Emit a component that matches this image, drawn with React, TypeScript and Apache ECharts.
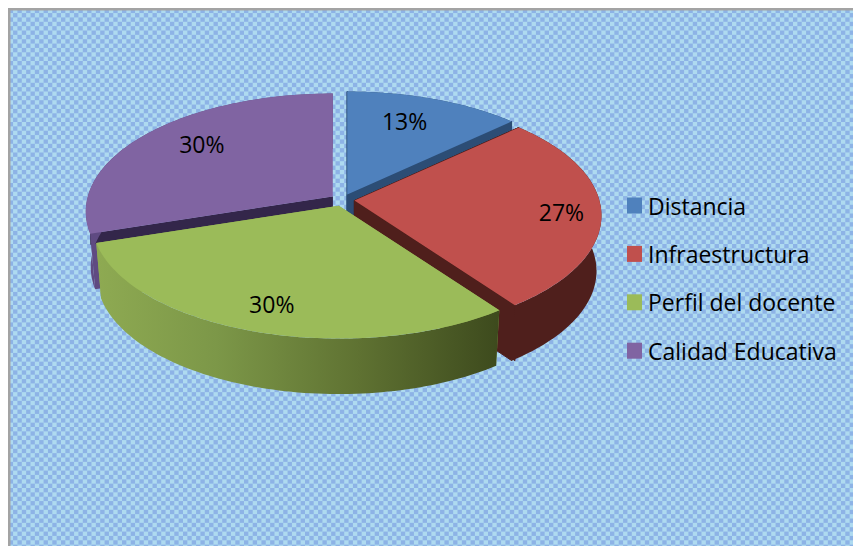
import React, { useEffect, useRef } from "react";
import * as echarts from "echarts";

const categories = ["Distancia", "Infraestructura", "Perfil del docente", "Calidad Educativa"];
const values = [13, 27, 30, 30];
const labels = ["13%", "27%", "30%", "30%"];
const colors = ["#4f81bd", "#c0504d", "#9bbb59", "#8064a2"];
const cutColors = ["#2c4d75", "#4f1f1c", "#5f7232", "#33264a"];
const sideStops: [number, string][][] = [
  [[0, "#2c4d75"], [1, "#2c4d75"]],
  [[0, "#4f1f1c"], [1, "#4f1f1c"]],
  [[0, "#8eaa52"], [0.3, "#7c9748"], [0.65, "#5f7232"], [1, "#3d4a1d"]],
  [[0, "#5f4a82"], [1, "#5f4a82"]],
];
const paintOrder = [3, 4, 5, 2];
const labelRadius = [0.68, 0.84, 0.8, 0.74];
const labelNudge = [[-4, -6], [0, 2], [0, 1], [8, -5]];
const cutStroke = [1, 1, 0, 0];

const CX = 342.5, CY = 200, RX = 245, B = 116, P = 0.127, EXPLODE = 12, SQUASH = 0.5, H = 55.5, BOTTOM_X = 0.98;
const cutBand = [H, H, 0, 11];
const TOTAL = values.reduce((a, b) => a + b, 0);
const FONT = "'Open Sans'";

function proj(theta: number, f = 1) {
  const s = 1 / (1 + P * f * Math.cos(theta));
  return [RX * f * Math.sin(theta) * s, -B * f * Math.cos(theta) * s];
}

function makePattern() {
  const period = 61 / 7;
  const c = document.createElement("canvas");
  c.width = 61;
  c.height = 61;
  const g = c.getContext("2d")!;
  g.fillStyle = "#aedaf0";
  g.fillRect(0, 0, 61, 61);
  g.fillStyle = "#8db3e6";
  for (let i = 0; i < 14; i++) {
    for (let j = 0; j < 14; j++) {
      if ((i + j) % 2 === 0) g.fillRect((i * period) / 2, (j * period) / 2, period / 2, period / 2);
    }
  }
  return c;
}

function sliceRenderer(idx: number) {
  return (_params: any, api: any) => {
    const v = api.value(0) as number;
    const before = values.slice(0, idx).reduce((a, b) => a + b, 0);
    const a0 = (before / TOTAL) * Math.PI * 2;
    const a1 = ((before + v) / TOTAL) * Math.PI * 2;
    const mid = (a0 + a1) / 2;
    const ax = CX + EXPLODE * Math.sin(mid);
    const ay = CY - EXPLODE * SQUASH * Math.cos(mid);
    const topPt = (t: number) => {
      const p = proj(t);
      return [ax + p[0], ay + p[1]];
    };
    const botPt = (t: number) => {
      const p = proj(t);
      return [ax + p[0] * BOTTOM_X, ay + p[1] + H];
    };
    const n = 80;
    const topArc: number[][] = [];
    const botArc: number[][] = [];
    for (let i = 0; i <= n; i++) {
      const t = a0 + ((a1 - a0) * i) / n;
      topArc.push(topPt(t));
      botArc.push(botPt(t));
    }
    const apexTop = [ax, ay];
    const apexBot = [ax, ay + H];
    const base = sideStops[idx][0][1];
    const cut = (t: number) => {
      const tp = topPt(t);
      const band = cutBand[idx];
      return [
        {
          type: "polygon",
          z2: 1,
          shape: { points: [apexTop, tp, botPt(t), apexBot] },
          style: { fill: base, stroke: base, lineWidth: cutStroke[idx] },
        },
        {
          type: "polygon",
          z2: 2,
          shape: { points: [apexTop, tp, [tp[0], tp[1] + band], [ax, ay + band]] },
          style: { fill: cutColors[idx], stroke: cutColors[idx], lineWidth: cutStroke[idx] },
        },
      ];
    };
    const lp = proj(mid, labelRadius[idx]);
    return {
      type: "group",
      children: [
        ...cut(a0),
        ...cut(a1),
        {
          type: "polygon",
          z2: 3,
          shape: { points: topArc.concat(botArc.slice().reverse()) },
          style: {
            fill: {
              type: "linear", x: 0, y: 0, x2: 1, y2: 0,
              colorStops: sideStops[idx].map(([offset, color]) => ({ offset, color })),
            },
          },
        },
        {
          type: "polygon",
          z2: 4,
          shape: { points: [apexTop].concat(topArc) },
          style: { fill: colors[idx] },
        },
        {
          type: "text",
          z2: 5,
          style: {
            text: labels[idx],
            x: ax + lp[0] + labelNudge[idx][0],
            y: ay + lp[1] + labelNudge[idx][1],
            fill: "#000",
            fontSize: 23,
            fontFamily: FONT,
            align: "center",
            verticalAlign: "middle",
          },
        },
      ],
    };
  };
}

export default function App() {
  const ref = useRef<HTMLDivElement>(null);
  useEffect(() => {
    document.body.style.margin = "0";
    const chart = echarts.init(ref.current!, undefined, { renderer: "svg" });
    chart.setOption({
      animation: false,
      backgroundColor: "#fff",
      color: colors,
      graphic: {
        elements: [
          { type: "rect", z: 0, shape: { x: 8, y: 8, width: 845, height: 538 }, style: { fill: "#a3a3a3" }, silent: true },
          { type: "rect", z: 0, z2: 1, shape: { x: 10.5, y: 10.5, width: 843, height: 536 }, style: { fill: { image: makePattern(), repeat: "repeat" } }, silent: true },
        ],
      },
      legend: {
        orient: "vertical",
        left: 627,
        top: 193.5,
        padding: 0,
        itemWidth: 15,
        itemHeight: 16,
        itemGap: 24.4,
        icon: "rect",
        selectedMode: false,
        textStyle: { fontFamily: FONT, fontSize: 23, color: "#000", lineHeight: 24, padding: [0, 0, 0, 1] },
        data: categories,
      },
      series: categories.map((name, i) => ({
        type: "custom",
        name,
        coordinateSystem: "none",
        z: paintOrder[i],
        silent: true,
        itemStyle: { color: colors[i] },
        renderItem: sliceRenderer(i),
        data: [[values[i]]],
      })),
    });
    return () => chart.dispose();
  }, []);
  return <div ref={ref} style={{ width: 853, height: 546 }} />;
}
